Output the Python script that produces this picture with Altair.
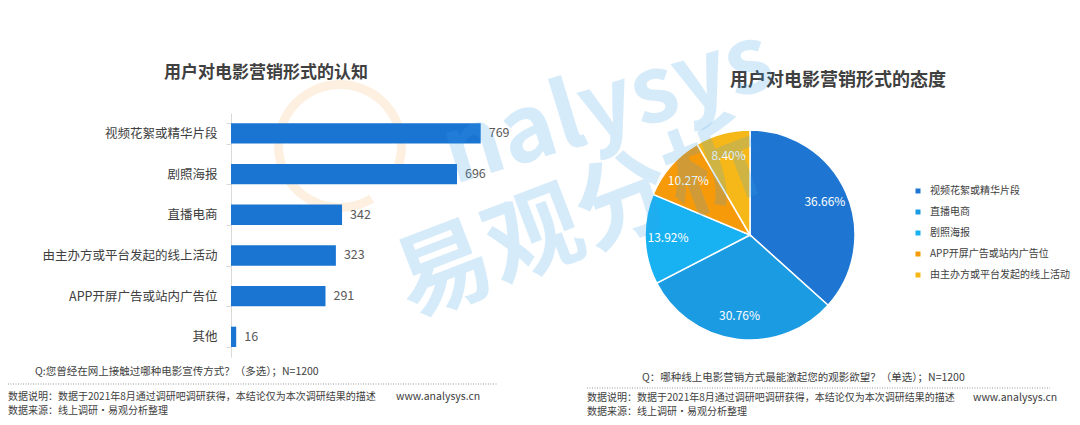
import altair as alt
import pandas as pd

# ---- data ----
bar_categories = ["视频花絮或精华片段", "剧照海报", "直播电商", "由主办方或平台发起的线上活动", "APP开屏广告或站内广告位", "其他"]
bar_values = [769, 696, 342, 323, 291, 16]

pie_categories = ["视频花絮或精华片段", "直播电商", "剧照海报", "APP开屏广告或站内广告位", "由主办方或平台发起的线上活动"]
pie_values = [36.66, 30.76, 13.92, 10.27, 8.40]
pie_labels = ["36.66%", "30.76%", "13.92%", "10.27%", "8.40%"]
pie_colors = ["#1e76d2", "#1a9be2", "#18b1f2", "#f79a0a", "#f6b819"]

title_left = "用户对电影营销形式的认知"
title_right = "用户对电影营销形式的态度"
q_left = "Q:您曾经在网上接触过哪种电影宣传方式？（多选）；N=1200"
q_right = "Q：哪种线上电影营销方式最能激起您的观影欲望？（单选）；N=1200"
note_text = "数据说明：数据于2021年8月通过调研吧调研获得，本结论仅为本次调研结果的描述"
source_text = "数据来源：线上调研·易观分析整理"
site_text = "www.analysys.cn"

FONT = "Noto Sans CJK SC"
TXT = "#404040"

bar_df = pd.DataFrame({"cat": bar_categories, "val": bar_values})
pie_df = pd.DataFrame({"cat": pie_categories, "pct": pie_values,
                       "lab": pie_labels, "idx": list(range(len(pie_categories)))})


def label(text, x, y, size=10, align="left", weight="normal", color=TXT, angle=0, opacity=1.0):
    return alt.Chart(pd.DataFrame({"t": [text]})).mark_text(
        align=align, baseline="middle", font=FONT, fontSize=size,
        fontWeight=weight, color=color, angle=angle, opacity=opacity
    ).encode(text="t:N", x=alt.value(x), y=alt.value(y))


def dotted(x1, x2, y):
    return alt.Chart(pd.DataFrame({"t": [0]})).mark_rule(
        color="#9a9a9a", strokeDash=[1, 1.5], strokeWidth=1
    ).encode(x=alt.value(x1), x2=alt.value(x2), y=alt.value(y))


# faint orange logo swirl (watermark)
swirl = alt.Chart(pd.DataFrame({"t": [0]})).mark_arc(
    radius=66, radius2=57, theta=2.6, theta2=8.2, color="#f7a443", opacity=0.16
).encode(x=alt.value(332), y=alt.value(138))

ybar = alt.Y("cat:N", sort=bar_categories, title=None,
             scale=alt.Scale(range=[105, 349.2], paddingInner=0.5, paddingOuter=0.25),
             axis=alt.Axis(orient="left", offset=-223, domainColor="#d9d9d9", tickColor="#d9d9d9",
                           tickSize=5, tickBand="extent", labelPadding=9, labelFont=FONT,
                           labelFontSize=12.5, labelColor=TXT, labelLimit=300))
xbar = alt.X("val:Q", title=None, axis=None,
             scale=alt.Scale(domain=[0, 769], range=[223, 472.7], nice=False))

bars = alt.Chart(bar_df).mark_bar(color="#1a74d2").encode(x=xbar, y=ybar)
bar_text = alt.Chart(bar_df).mark_text(
    align="left", baseline="middle", dx=8, font=FONT, fontSize=12.5, color="#5a5a5a"
).encode(x=xbar, y=ybar, text="val:Q")

pie = alt.Chart(pie_df).mark_arc(radius=105, stroke="white", strokeWidth=1.5).encode(
    theta=alt.Theta("pct:Q", stack=True),
    order=alt.Order("idx:Q"),
    color=alt.Color("cat:N", sort=pie_categories, title=None,
                    scale=alt.Scale(domain=pie_categories, range=pie_colors),
                    legend=alt.Legend(orient="none", legendX=905, legendY=178, symbolType="square",
                                      symbolSize=25, labelFont=FONT, labelFontSize=10,
                                      labelColor=TXT, rowPadding=11, labelOffset=7,
                                      labelLimit=300, symbolStrokeWidth=0)),
    x=alt.value(742), y=alt.value(227),
)
pie_text = alt.Chart(pie_df).mark_text(
    radius=82, font=FONT, fontSize=12, color="white", align="center", baseline="middle"
).encode(
    theta=alt.Theta("pct:Q", stack=True),
    order=alt.Order("idx:Q"),
    text="lab:N",
    x=alt.value(742), y=alt.value(227),
)

layers = [
    swirl,
    bars, bar_text, pie, pie_text,
    label(title_left, 258, 65, size=17, align="center", weight="bold"),
    label(title_right, 830, 73, size=18, align="center", weight="bold"),
    label(q_left, 27, 364, size=10.5),
    dotted(0, 489, 376),
    label(note_text, 0, 389, size=10),
    label(site_text, 388, 389, size=10.5),
    label(source_text, 0, 403, size=10),
    label(q_right, 634, 370, size=10.5),
    dotted(579, 1042, 380),
    label(note_text, 579, 390, size=10),
    label(site_text, 965, 390, size=10.5),
    label(source_text, 579, 404, size=10),
    # watermark
    label("nalysys", 600, 100, size=92, align="center", weight="bold", color="#3aa0e8", angle=343, opacity=0.2),
    label("易观分析", 572, 214, size=96, align="center", weight="bold", color="#3aa0e8", angle=339, opacity=0.2),
]

chart = alt.layer(*layers).properties(
    width=1064, height=409, padding=0, autosize=alt.AutoSizeParams(type="none"),
    background="white"
).configure_view(stroke=None)

chart.save("out.html", embed_options={"renderer": "svg", "actions": False})
